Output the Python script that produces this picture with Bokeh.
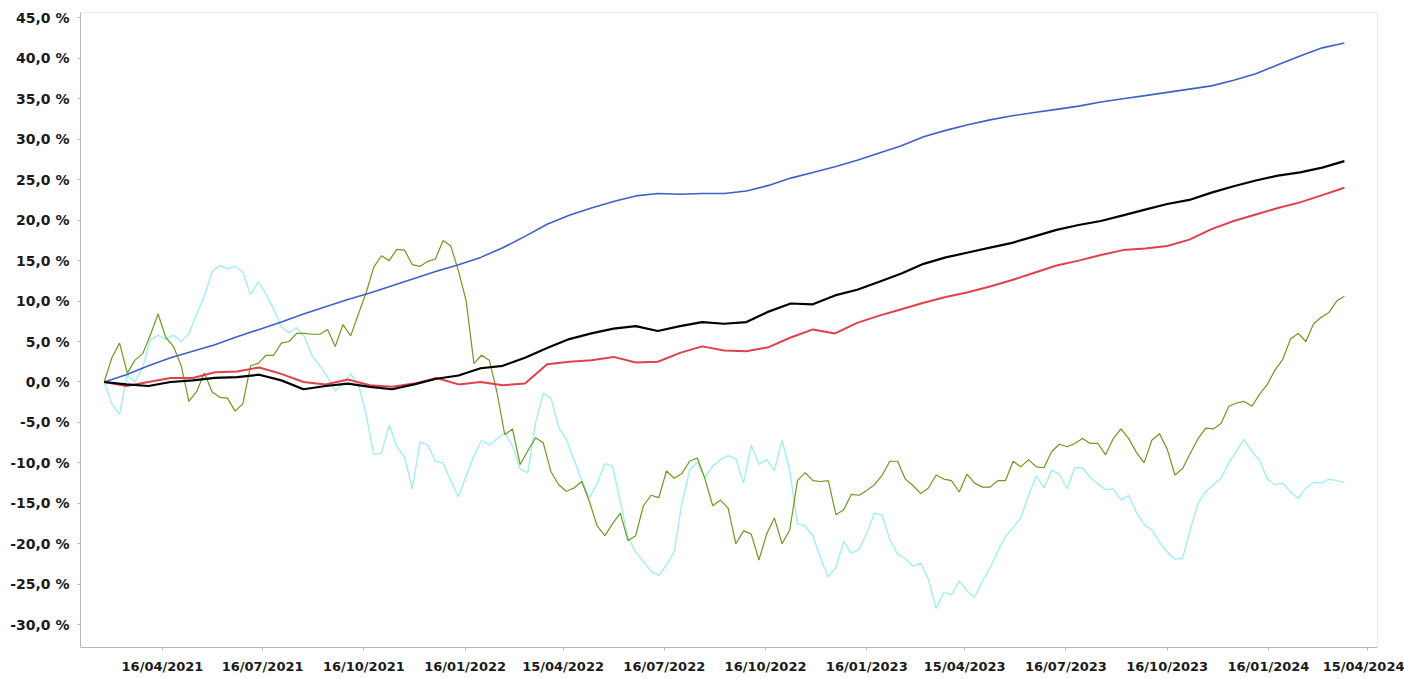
import pandas as pd
from bokeh.plotting import figure
from bokeh.models import FixedTicker, CustomJSTickFormatter, DatetimeTickFormatter, Range1d
from bokeh.embed import file_html
from bokeh.resources import INLINE

# ---- data (cumulative performance, %) ----
weekly_dates = pd.date_range("2021-02-22", periods=162, freq="7D")
smooth_dates = pd.date_range("2021-02-22", "2024-03-25", periods=57)

blue_vals = [0.0, 0.9, 2.0, 3.0, 3.8, 4.6, 5.6, 6.5, 7.4, 8.4, 9.3, 10.2, 11.0, 11.9, 12.8, 13.7,
             14.5, 15.4, 16.6, 18.0, 19.5, 20.6, 21.5, 22.3, 23.0, 23.3, 23.2, 23.3, 23.3, 23.6,
             24.3, 25.2, 25.9, 26.6, 27.4, 28.3, 29.2, 30.3, 31.1, 31.8, 32.4, 32.9, 33.3, 33.7,
             34.1, 34.6, 35.0, 35.4, 35.8, 36.2, 36.6, 37.3, 38.1, 39.2, 40.3, 41.3, 41.9]

black_vals = [0.0, -0.3, -0.5, 0.0, 0.2, 0.5, 0.6, 0.9, 0.2, -0.9, -0.5, -0.2, -0.6, -0.9, -0.3,
              0.4, 0.8, 1.7, 2.0, 3.0, 4.2, 5.3, 6.0, 6.6, 6.9, 6.3, 6.9, 7.4, 7.2, 7.4, 8.7, 9.7,
              9.6, 10.7, 11.4, 12.4, 13.4, 14.6, 15.4, 16.0, 16.6, 17.2, 18.0, 18.8, 19.4, 19.9,
              20.6, 21.3, 22.0, 22.5, 23.4, 24.2, 24.9, 25.5, 25.9, 26.5, 27.3]

red_vals = [0.0, -0.5, 0.0, 0.5, 0.5, 1.2, 1.3, 1.8, 1.0, 0.0, -0.3, 0.3, -0.4, -0.6, -0.2, 0.5,
            -0.3, 0.0, -0.4, -0.2, 2.2, 2.5, 2.7, 3.1, 2.4, 2.5, 3.6, 4.4, 3.9, 3.8, 4.3, 5.5,
            6.5, 6.0, 7.3, 8.2, 9.0, 9.8, 10.5, 11.1, 11.8, 12.6, 13.5, 14.4, 15.0, 15.7, 16.3,
            16.5, 16.8, 17.6, 18.9, 19.9, 20.7, 21.5, 22.2, 23.1, 24.0]

green_vals = [0.0, 3.0, 4.8, 1.1, 2.7, 3.5, 5.8, 8.4, 5.5, 4.4,
              2.0, -2.4, -1.2, 1.1, -1.2, -1.9, -2.0, -3.6, -2.7, 2.0,
              2.3, 3.3, 3.3, 4.8, 5.0, 6.0, 6.0, 5.9, 5.9, 6.5,
              4.4, 7.1, 5.7, 8.4, 11.0, 14.2, 15.6, 15.0, 16.4, 16.3,
              14.5, 14.3, 14.9, 15.2, 17.5, 16.8, 13.7, 10.0, 2.3, 3.3,
              2.7, -1.3, -6.5, -5.8, -10.2, -8.5, -6.9, -7.5, -11.1, -12.7,
              -13.5, -13.1, -12.3, -14.8, -17.8, -19.0, -17.5, -16.2, -19.6, -19.0,
              -15.3, -14.0, -14.3, -11.0, -11.9, -11.3, -9.8, -9.4, -12.0, -15.3,
              -14.6, -15.6, -20.0, -18.4, -18.8, -22.0, -18.8, -16.8, -20.0, -18.3,
              -12.2, -11.2, -12.2, -12.3, -12.2, -16.4, -15.8, -13.9, -14.0, -13.4,
              -12.7, -11.5, -9.8, -9.8, -12.0, -12.8, -13.8, -13.1, -11.5, -12.0,
              -12.2, -13.6, -11.4, -12.5, -13.0, -13.0, -12.2, -12.2, -9.8, -10.5,
              -9.6, -10.5, -10.6, -8.6, -7.7, -8.0, -7.6, -7.0, -7.6, -7.6,
              -9.0, -7.0, -5.8, -7.0, -8.7, -10.0, -7.2, -6.4, -8.3, -11.5,
              -10.7, -8.8, -7.0, -5.7, -5.8, -5.1, -3.0, -2.6, -2.4, -3.0,
              -1.5, -0.3, 1.5, 2.8, 5.3, 6.0, 5.0, 7.2, 8.0, 8.6,
              10.0, 10.6]

cyan_vals = [0.0, -2.7, -4.0, 0.9, 0.0, 1.8, 5.2, 5.8, 5.3, 5.8,
             5.0, 6.0, 8.4, 10.6, 13.6, 14.4, 14.0, 14.3, 13.6, 10.8,
             12.4, 10.9, 9.0, 6.8, 6.1, 6.7, 5.6, 3.2, 2.0, 0.6,
             -1.1, -0.2, 1.0, -0.3, -4.0, -9.0, -8.8, -5.3, -8.0, -9.3,
             -13.2, -7.4, -7.8, -9.8, -10.0, -12.2, -14.2, -11.6, -9.1, -7.2,
             -7.8, -7.0, -6.3, -7.9, -10.8, -11.2, -5.0, -1.4, -2.0, -5.6,
             -7.1, -9.6, -12.2, -14.3, -12.5, -10.1, -10.4, -14.8, -19.2, -21.0,
             -22.2, -23.4, -23.9, -22.6, -21.0, -15.0, -10.9, -9.9, -11.8, -10.4,
             -9.6, -9.1, -9.5, -12.5, -7.8, -10.2, -9.6, -11.0, -7.2, -11.0,
             -17.5, -17.8, -19.0, -21.8, -24.1, -22.9, -19.7, -21.2, -20.7, -18.7,
             -16.2, -16.5, -19.5, -21.3, -21.8, -22.8, -22.4, -24.4, -28.0, -26.0,
             -26.3, -24.6, -25.8, -26.6, -24.6, -23.0, -20.9, -19.1, -18.0, -16.8,
             -14.0, -11.6, -13.1, -10.9, -11.4, -13.2, -10.6, -10.6, -11.8, -12.6,
             -13.3, -13.2, -14.6, -14.0, -16.1, -17.6, -18.3, -19.8, -21.0, -21.9,
             -21.8, -18.2, -15.0, -13.5, -12.7, -11.9, -10.0, -8.5, -7.1, -8.6,
             -9.7, -12.0, -12.7, -12.5, -13.6, -14.4, -13.1, -12.4, -12.5, -12.0,
             -12.2, -12.4]

x_tick_dates = ["2021-04-16", "2021-07-16", "2021-10-16", "2022-01-16", "2022-04-15",
                "2022-07-16", "2022-10-16", "2023-01-16", "2023-04-15", "2023-07-16",
                "2023-10-16", "2024-01-16", "2024-04-15"]
y_ticks = [-30, -25, -20, -15, -10, -5, 0, 5, 10, 15, 20, 25, 30, 35, 40, 45]

# ---- figure ----
p = figure(width=1404, height=679, x_axis_type="datetime", output_backend="svg",
           toolbar_location=None, min_border_left=80, min_border_right=27,
           min_border_top=12, min_border_bottom=32)
p.x_range = Range1d(pd.Timestamp("2021-01-31 12:00"), pd.Timestamp("2024-04-24 02:00"))
p.y_range = Range1d(-32.82, 45.67)

p.line(weekly_dates, cyan_vals, line_color="#a3eef3", line_width=1.4)
p.line(weekly_dates, green_vals, line_color="#6e9a20", line_width=1.2)
p.line(smooth_dates, blue_vals, line_color="#3d62c6", line_width=1.6)
p.line(smooth_dates, red_vals, line_color="#e2404a", line_width=2.0)
p.line(smooth_dates, black_vals, line_color="#000000", line_width=2.2)

p.xgrid.visible = False
p.ygrid.visible = False
p.outline_line_color = "#ececec"
p.background_fill_color = "white"
p.border_fill_color = "white"

xt = [pd.Timestamp(d).value // 10**6 for d in x_tick_dates]
p.xaxis.ticker = FixedTicker(ticks=xt, minor_ticks=[])
fmt = "%d/%m/%Y"
p.xaxis.formatter = DatetimeTickFormatter(days=fmt, months=fmt, years=fmt, hours=fmt,
                                          context=None)
p.yaxis.ticker = FixedTicker(ticks=y_ticks, minor_ticks=[])
p.yaxis.formatter = CustomJSTickFormatter(
    code="return tick.toFixed(1).replace('.', ',') + ' %';")

for ax in (p.xaxis, p.yaxis):
    ax.axis_line_color = "#b8b8b8"
    ax.major_tick_line_color = "#b8b8b8"
    ax.major_tick_out = 3
    ax.major_tick_in = 0
    ax.minor_tick_line_color = None
    ax.major_label_text_font = "DejaVu Sans"
    ax.major_label_text_font_style = "bold"
    ax.major_label_text_color = "#1a1a1a"
p.xaxis.major_label_text_font_size = "13px"
p.yaxis.major_label_text_font_size = "14px"
p.xaxis.major_label_standoff = 8
p.yaxis.major_label_standoff = 8

open("out.html", "w").write(file_html(p, INLINE))
